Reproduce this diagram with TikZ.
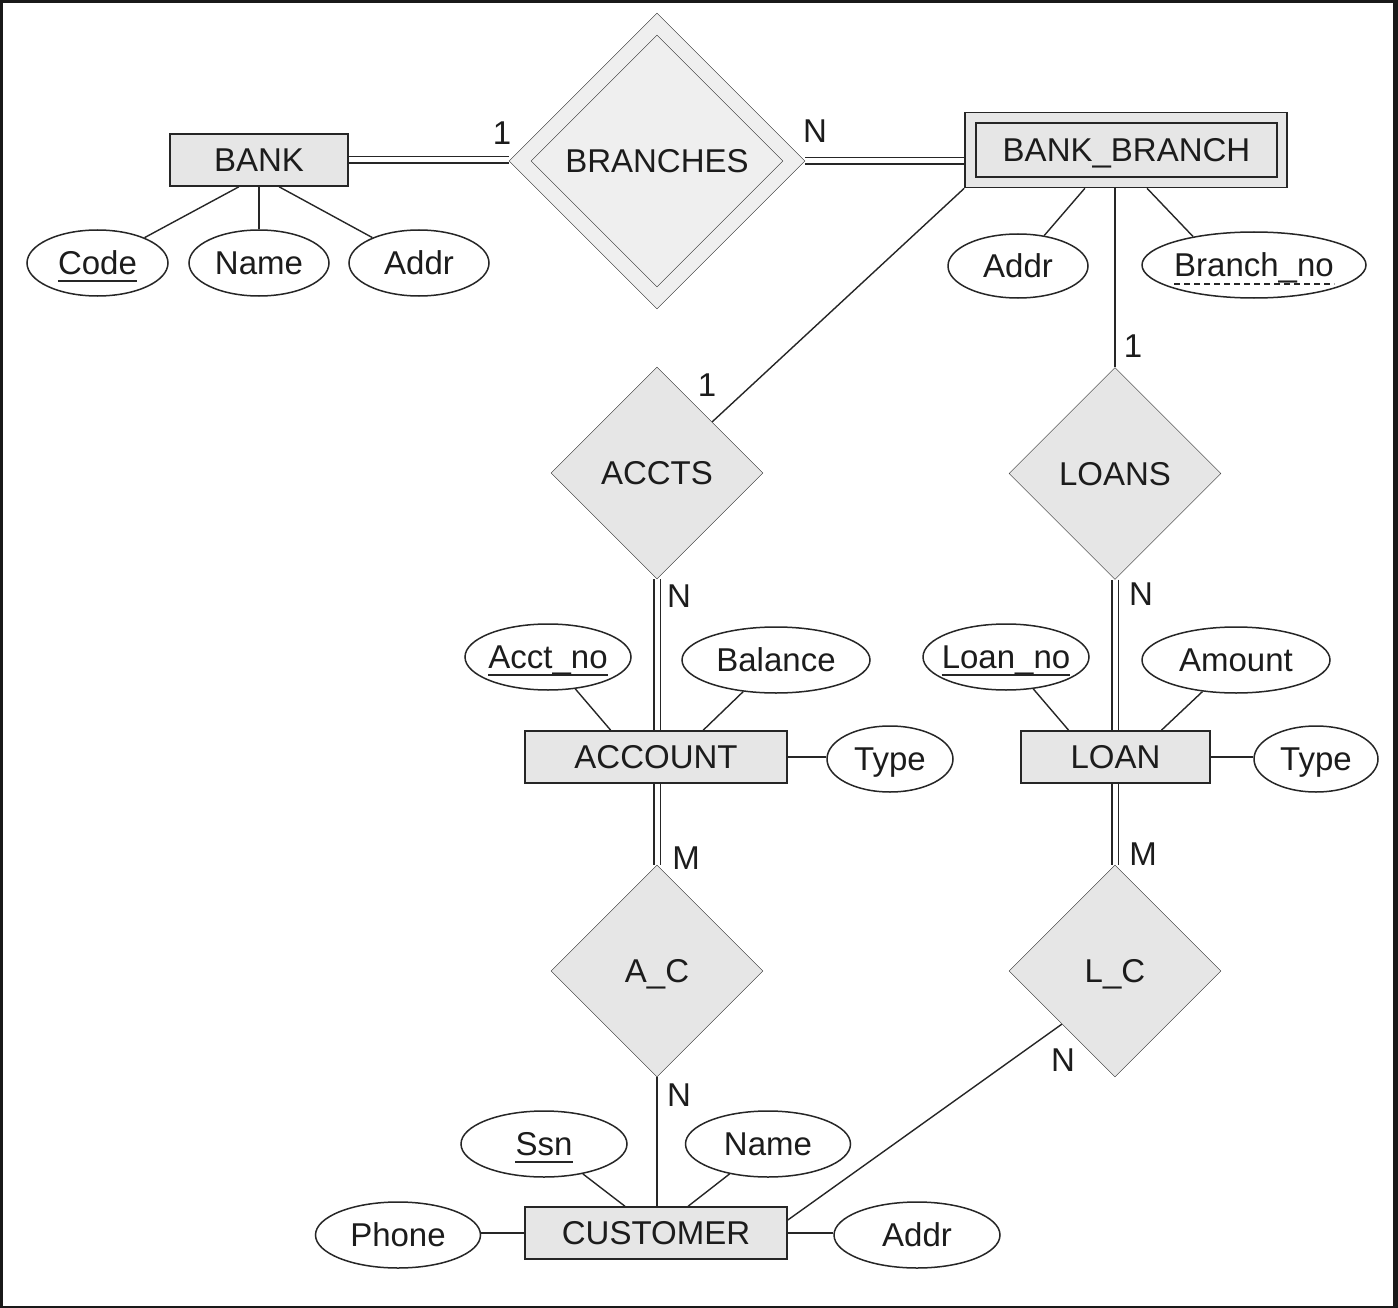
\documentclass[tikz,border=0pt]{standalone}
\usepackage{fontspec}
\setmainfont{Liberation Sans}
\usetikzlibrary{shapes.geometric,calc,backgrounds}
\definecolor{linec}{HTML}{262626}
\definecolor{entfill}{HTML}{E6E6E6}
\definecolor{brfill}{HTML}{EFEFEF}
\definecolor{txtc}{HTML}{1C1C1C}
\begin{document}
\begin{tikzpicture}[x=1pt,y=-1pt,line width=1.4pt,
  every node/.style={font=\fontsize{33}{40}\selectfont, text=txtc, text height=23.6pt, text depth=0pt},
  ent/.style={rectangle, draw=linec, fill=entfill, inner sep=0pt, minimum height=52pt, line width=1.6pt},
  rel/.style={diamond, draw=linec, fill=entfill, inner sep=0pt, minimum width=212pt, minimum height=212pt},
  attr/.style={ellipse, draw=linec, fill=white, inner sep=0pt, minimum height=66pt, line width=1.5pt},
  keytext/.style={inner sep=0pt},
  keyline/.style={draw=linec, line width=1.6pt},
  pkeyline/.style={draw=linec, line width=1.5pt, dash pattern=on 6pt off 4pt},
  card/.style={inner sep=0pt},
  conn/.style={draw=linec, line width=1.4pt},
  dbl/.style={draw=linec, line width=1.3pt, double=white, double distance=5pt}]
\useasboundingbox (0,0) rectangle (1398,1308);
\begin{pgfonlayer}{background}
\fill[black!90] (0,0) rectangle (1398,1308);
\fill[white] (3,3) rectangle (1393,1306);
\end{pgfonlayer}

% entities
\node[ent, minimum width=178pt] (bank) at (259,160) {BANK};
\node[ent, minimum width=322pt, minimum height=75pt] (bb) at (1126,150) {};
\node[rectangle, draw=linec, line width=1.6pt, inner sep=0pt, minimum width=301pt, minimum height=54pt] (bbi) at (1126.5,150) {BANK\_BRANCH};
\node[ent, minimum width=262pt] (account) at (656,757) {ACCOUNT};
\node[ent, minimum width=189pt] (loan) at (1115.5,757) {LOAN};
\node[ent, minimum width=262pt] (cust) at (656,1233) {CUSTOMER};

% relationships
\node[rel, fill=brfill, minimum width=296pt, minimum height=296pt] (br) at (657,161) {};
\node[diamond, draw=linec, inner sep=0pt, minimum width=252pt, minimum height=252pt] (bri) at (657,161) {BRANCHES};
\node[rel] (accts) at (657,473) {ACCTS};
\node[rel] (loans) at (1115,473.5) {LOANS};
\node[rel] (ac) at (657,971) {A\_C};
\node[rel] (lc) at (1115,971) {L\_C};

% attributes
\node[attr, minimum width=141pt] (code) at (97.5,263) {};
\node[keytext] (codet) at (code) {Code};
\node[attr, minimum width=140pt] (bname) at (259,263) {Name};
\node[attr, minimum width=140pt] (baddr) at (419,263) {Addr};
\node[attr, minimum width=140pt, minimum height=64pt] (bbaddr) at (1018,266) {Addr};
\node[attr, minimum width=224pt] (bn) at (1254,265) {};
\node[keytext] (bnt) at (bn) {Branch\_no};
\node[attr, minimum width=166pt] (acctno) at (548,657) {};
\node[keytext] (acctnot) at (acctno) {Acct\_no};
\node[attr, minimum width=188pt] (bal) at (776,660) {Balance};
\node[attr, minimum width=126pt] (atype) at (890,759) {Type};
\node[attr, minimum width=166pt] (loanno) at (1006,657) {};
\node[keytext] (loannot) at (loanno) {Loan\_no};
\node[attr, minimum width=188pt] (amt) at (1236,660) {Amount};
\node[attr, minimum width=124pt] (ltype) at (1316,759) {Type};
\node[attr, minimum width=166pt] (ssn) at (544,1144) {};
\node[keytext] (ssnt) at (ssn) {Ssn};
\node[attr, minimum width=165pt] (cname) at (768,1144) {Name};
\node[attr, minimum width=165pt] (phone) at (398,1235) {Phone};
\node[attr, minimum width=166pt] (caddr) at (917,1235) {Addr};

% key underlines
\draw[keyline] ([yshift=-6pt]codet.base west) -- ([yshift=-6pt]codet.base east);
\draw[keyline] ([yshift=-6pt]acctnot.base west) -- ([yshift=-6pt]acctnot.base east);
\draw[keyline] ([yshift=-6pt]loannot.base west) -- ([yshift=-6pt]loannot.base east);
\draw[keyline] ([yshift=-6pt]ssnt.base west) -- ([yshift=-6pt]ssnt.base east);
\draw[pkeyline] ([yshift=-7pt]bnt.base west) -- ([yshift=-7pt]bnt.base east);

% cardinalities
\node[card] (c1) at (502,133) {1};
\node[card] (c2) at (815,131) {N};
\node[card] (c3) at (707,385) {1};
\node[card] (c4) at (1133,346) {1};
\node[card] (c5) at (679,596) {N};
\node[card] (c6) at (1141,594) {N};
\node[card] (c7) at (686,858) {M};
\node[card] (c8) at (1143,854) {M};
\node[card] (c9) at (679,1095) {N};
\node[card] (c10) at (1063,1060) {N};

% connectors
\begin{pgfonlayer}{background}
\draw[dbl] (bank.east) -- (bank.east -| br.west);
\draw[dbl] (br.east) -- (br.east -| bb.west);
\draw[conn] (bb.south west) -- (accts);
\draw[conn] (loans.north |- bb.south) -- (loans.north);
\draw[conn] ($(bb.south west)!0.373!(bb.south east)$) -- (bbaddr);
\draw[conn] ($(bb.south west)!0.565!(bb.south east)$) -- (bn.155);
\draw[conn] ($(bank.south west)!0.388!(bank.south east)$) -- (code);
\draw[conn] (bank.south) -- (bname);
\draw[conn] ($(bank.south west)!0.612!(bank.south east)$) -- (baddr);
\draw[dbl] (accts.south) -- (accts.south |- account.north);
\draw[dbl] (account.south -| ac.north) -- (ac.north);
\draw[conn] (ac.south) -- (ac.south |- cust.north);
\draw[dbl] (loans.south) -- (loans.south |- loan.north);
\draw[dbl] (loan.south -| lc.north) -- (lc.north);
\draw[conn] ([yshift=13pt]cust.east) -- (lc.south west);
\draw[conn] ($(account.north west)!0.328!(account.north east)$) -- (acctno);
\draw[conn] ($(account.north west)!0.679!(account.north east)$) -- (bal);
\draw[conn] (account.east) -- (account.east -| atype.west);
\draw[conn] ($(loan.north west)!0.254!(loan.north east)$) -- (loanno);
\draw[conn] ($(loan.north west)!0.741!(loan.north east)$) -- (amt);
\draw[conn] (loan.east) -- (loan.east -| ltype.west);
\draw[conn] ($(cust.north west)!0.382!(cust.north east)$) -- (ssn);
\draw[conn] ($(cust.north west)!0.622!(cust.north east)$) -- (cname);
\draw[conn] (cust.west) -- (cust.west -| phone.east);
\draw[conn] (cust.east) -- (cust.east -| caddr.west);
\end{pgfonlayer}
\end{tikzpicture}
\end{document}
